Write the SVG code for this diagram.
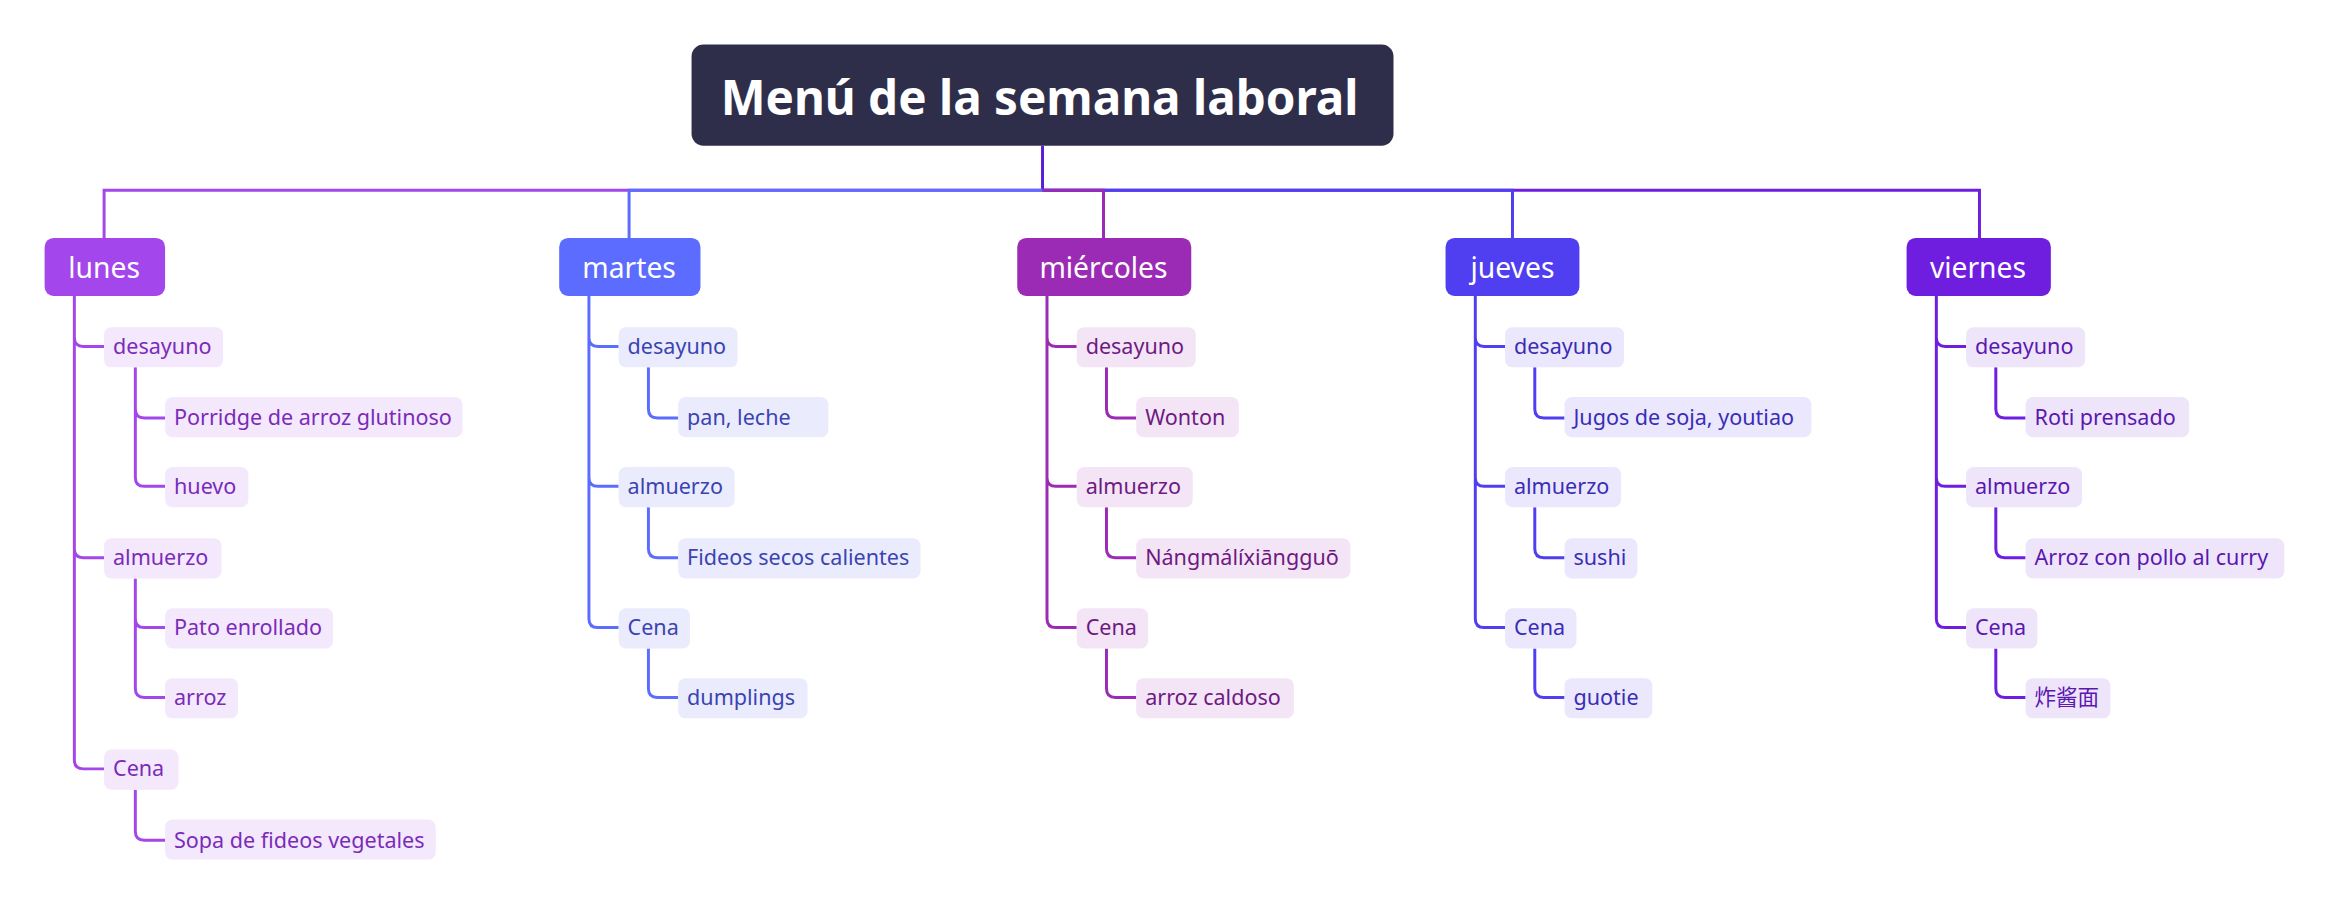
<svg xmlns="http://www.w3.org/2000/svg" width="2332" height="921" viewBox="0 0 2332 921">
<style>
text{font-family:"Noto Sans","Open Sans","Noto Sans CJK SC",sans-serif}
.c{fill:none;stroke-width:2}
.t{font-size:14.5px}
.d{font-size:19px;fill:#fff;text-anchor:middle}
.lu{stroke:#a346ec}.ma{stroke:#5b6cff}.mi{stroke:#9b2ab4}.ju{stroke:#4f3ff0}.vi{stroke:#6f1ee0}
.blu{fill:#f4e8fd}.bma{fill:#eaecfe}.bmi{fill:#f3e5f6}.bju{fill:#ebe8fd}.bvi{fill:#efe5fb}
.tlu{fill:#7a2cb8}.tma{fill:#3b44b0}.tmi{fill:#6e1a82}.tju{fill:#3a2db5}.tvi{fill:#5a18b0}
</style>
<rect width="2332" height="921" fill="#fff"/>
<g transform="scale(1.4872)">
<g id="connectors">
<path class="c" stroke="#5a1ed6" d="M701,98V128"/>
<path class="c lu" d="M701,128H70V160"/>
<path class="c ma" d="M701,128H423V160"/>
<path class="c vi" d="M701,128H1331V160"/>
<path class="c ju" d="M701,128H1017V160"/>
<path class="c mi" d="M701,128H742V160"/>
<!-- lunes -->
<path class="c lu" d="M50,199V227Q50,233 56,233H70M50,227V369Q50,375 56,375H70M50,369V511Q50,517 56,517H70"/>
<path class="c lu" d="M91,247V275Q91,281 97,281H111M91,275V321Q91,327 97,327H111"/>
<path class="c lu" d="M91,389V416Q91,422 97,422H111M91,416V463Q91,469 97,469H111"/>
<path class="c lu" d="M91,531V559Q91,565 97,565H111"/>
<!-- martes -->
<path class="c ma" d="M396,199V227Q396,233 402,233H416M396,227V321Q396,327 402,327H416M396,321V416Q396,422 402,422H416"/>
<path class="c ma" d="M436,247V275Q436,281 442,281H456M436,341V369Q436,375 442,375H456M436,436V463Q436,469 442,469H456"/>
<!-- miercoles -->
<path class="c mi" d="M704,199V227Q704,233 710,233H724M704,227V321Q704,327 710,327H724M704,321V416Q704,422 710,422H724"/>
<path class="c mi" d="M744,247V275Q744,281 750,281H764M744,341V369Q744,375 750,375H764M744,436V463Q744,469 750,469H764"/>
<!-- jueves -->
<path class="c ju" d="M992,199V227Q992,233 998,233H1012M992,227V321Q992,327 998,327H1012M992,321V416Q992,422 998,422H1012"/>
<path class="c ju" d="M1032,247V275Q1032,281 1038,281H1052M1032,341V369Q1032,375 1038,375H1052M1032,436V463Q1032,469 1038,469H1052"/>
<!-- viernes -->
<path class="c vi" d="M1302,199V227Q1302,233 1308,233H1322M1302,227V321Q1302,327 1308,327H1322M1302,321V416Q1302,422 1308,422H1322"/>
<path class="c vi" d="M1342,247V275Q1342,281 1348,281H1362M1342,341V369Q1342,375 1348,375H1362M1342,436V463Q1342,469 1348,469H1362"/>
</g>
<g id="root"><rect x="465" y="30" width="472" height="68" rx="8" fill="#2f2e4a"/><text x="699" y="77" font-size="32" font-weight="bold" fill="#fff" text-anchor="middle">Menú de la semana laboral</text></g>
<g id="lunes"><rect x="30" y="160" width="81" height="39" rx="6" fill="#a346ec"/><text class="d" x="70" y="187">lunes</text></g>
<g id="martes"><rect x="376" y="160" width="95" height="39" rx="6" fill="#5b6cff"/><text class="d" x="423" y="187">martes</text></g>
<g id="miercoles"><rect x="684" y="160" width="117" height="39" rx="6" fill="#9b2ab4"/><text class="d" x="742" y="187">miércoles</text></g>
<g id="jueves"><rect x="972" y="160" width="90" height="39" rx="6" fill="#4f3ff0"/><text class="d" x="1017" y="187">jueves</text></g>
<g id="viernes"><rect x="1282" y="160" width="97" height="39" rx="6" fill="#6f1ee0"/><text class="d" x="1330" y="187">viernes</text></g>

<g id="lu-desayuno"><rect class="blu" x="70" y="220" width="80" height="27" rx="5"/><text class="t tlu" x="76" y="238">desayuno</text></g>
<g id="lu-porridge"><rect class="blu" x="111" y="267" width="200" height="27" rx="5"/><text class="t tlu" x="117" y="286">Porridge de arroz glutinoso</text></g>
<g id="lu-huevo"><rect class="blu" x="111" y="314" width="56" height="27" rx="5"/><text class="t tlu" x="117" y="332">huevo</text></g>
<g id="lu-almuerzo"><rect class="blu" x="70" y="362" width="79" height="27" rx="5"/><text class="t tlu" x="76" y="380">almuerzo</text></g>
<g id="lu-pato"><rect class="blu" x="111" y="409" width="113" height="27" rx="5"/><text class="t tlu" x="117" y="427">Pato enrollado</text></g>
<g id="lu-arroz"><rect class="blu" x="111" y="456" width="49" height="27" rx="5"/><text class="t tlu" x="117" y="474">arroz</text></g>
<g id="lu-cena"><rect class="blu" x="70" y="504" width="50" height="27" rx="5"/><text class="t tlu" x="76" y="522">Cena</text></g>
<g id="lu-sopa"><rect class="blu" x="111" y="551" width="182" height="27" rx="5"/><text class="t tlu" x="117" y="570">Sopa de fideos vegetales</text></g>

<g id="ma-desayuno"><rect class="bma" x="416" y="220" width="80" height="27" rx="5"/><text class="t tma" x="422" y="238">desayuno</text></g>
<g id="ma-pan"><rect class="bma" x="456" y="267" width="101" height="27" rx="5"/><text class="t tma" x="462" y="286">pan, leche</text></g>
<g id="ma-almuerzo"><rect class="bma" x="416" y="314" width="78" height="27" rx="5"/><text class="t tma" x="422" y="332">almuerzo</text></g>
<g id="ma-fideos"><rect class="bma" x="456" y="362" width="163" height="27" rx="5"/><text class="t tma" x="462" y="380">Fideos secos calientes</text></g>
<g id="ma-cena"><rect class="bma" x="416" y="409" width="48" height="27" rx="5"/><text class="t tma" x="422" y="427">Cena</text></g>
<g id="ma-dumplings"><rect class="bma" x="456" y="456" width="87" height="27" rx="5"/><text class="t tma" x="462" y="474">dumplings</text></g>

<g id="mi-desayuno"><rect class="bmi" x="724" y="220" width="80" height="27" rx="5"/><text class="t tmi" x="730" y="238">desayuno</text></g>
<g id="mi-wonton"><rect class="bmi" x="764" y="267" width="69" height="27" rx="5"/><text class="t tmi" x="770" y="286">Wonton</text></g>
<g id="mi-almuerzo"><rect class="bmi" x="724" y="314" width="78" height="27" rx="5"/><text class="t tmi" x="730" y="332">almuerzo</text></g>
<g id="mi-nang"><rect class="bmi" x="764" y="362" width="144" height="27" rx="5"/><text class="t tmi" x="770" y="380">Nángmálíxiāngguō</text></g>
<g id="mi-cena"><rect class="bmi" x="724" y="409" width="48" height="27" rx="5"/><text class="t tmi" x="730" y="427">Cena</text></g>
<g id="mi-caldoso"><rect class="bmi" x="764" y="456" width="106" height="27" rx="5"/><text class="t tmi" x="770" y="474">arroz caldoso</text></g>

<g id="ju-desayuno"><rect class="bju" x="1012" y="220" width="80" height="27" rx="5"/><text class="t tju" x="1018" y="238">desayuno</text></g>
<g id="ju-jugos"><rect class="bju" x="1052" y="267" width="166" height="27" rx="5"/><text class="t tju" x="1058" y="286">Jugos de soja, youtiao</text></g>
<g id="ju-almuerzo"><rect class="bju" x="1012" y="314" width="78" height="27" rx="5"/><text class="t tju" x="1018" y="332">almuerzo</text></g>
<g id="ju-sushi"><rect class="bju" x="1052" y="362" width="49" height="27" rx="5"/><text class="t tju" x="1058" y="380">sushi</text></g>
<g id="ju-cena"><rect class="bju" x="1012" y="409" width="48" height="27" rx="5"/><text class="t tju" x="1018" y="427">Cena</text></g>
<g id="ju-guotie"><rect class="bju" x="1052" y="456" width="59" height="27" rx="5"/><text class="t tju" x="1058" y="474">guotie</text></g>

<g id="vi-desayuno"><rect class="bvi" x="1322" y="220" width="80" height="27" rx="5"/><text class="t tvi" x="1328" y="238">desayuno</text></g>
<g id="vi-roti"><rect class="bvi" x="1362" y="267" width="110" height="27" rx="5"/><text class="t tvi" x="1368" y="286">Roti prensado</text></g>
<g id="vi-almuerzo"><rect class="bvi" x="1322" y="314" width="78" height="27" rx="5"/><text class="t tvi" x="1328" y="332">almuerzo</text></g>
<g id="vi-pollo"><rect class="bvi" x="1362" y="362" width="174" height="27" rx="5"/><text class="t tvi" x="1368" y="380">Arroz con pollo al curry</text></g>
<g id="vi-cena"><rect class="bvi" x="1322" y="409" width="48" height="27" rx="5"/><text class="t tvi" x="1328" y="427">Cena</text></g>
<g id="vi-zha"><rect class="bvi" x="1362" y="456" width="57" height="27" rx="5"/><text class="t tvi" x="1368" y="474">炸酱面</text></g>
</g>
</svg>
